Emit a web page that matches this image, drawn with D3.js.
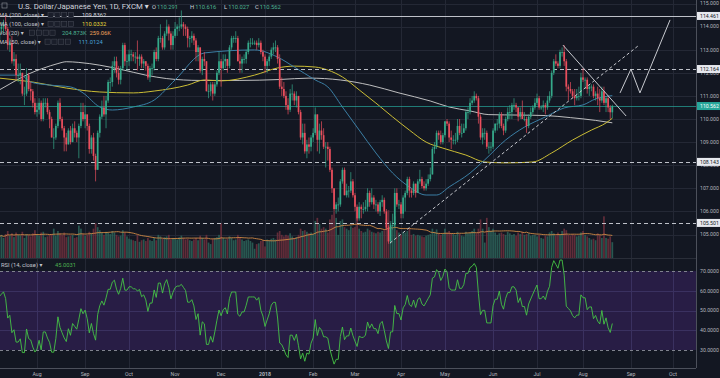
<!DOCTYPE html>
<html><head><meta charset="utf-8">
<script src="https://cdn.jsdelivr.net/npm/d3@7"></script>
<style>
html,body{margin:0;padding:0;background:#131722;overflow:hidden;}
svg{display:block;}
text{font-family:Roboto,"DejaVu Sans",sans-serif;}
</style></head><body>
<svg id="chart" width="720" height="378"></svg>
<script>
// ---------------- DATA ----------------
const firstBarDate = "2017-07-06";
const axisEndDate = "2018-10-31";
const monthStarts = ["2017-08","2017-09","2017-10","2017-11","2017-12","2018-01","2018-02","2018-03","2018-04","2018-05","2018-06","2018-07","2018-08","2018-09","2018-10"];
const monthLabels = ["Aug","Sep","Oct","Nov","Dec","2018","Feb","Mar","Apr","May","Jun","Jul","Aug","Sep","Oct"];

const opens = [113.3,113.9,114.0,114.1,113.9,113.2,113.3,112.5,112.6,111.9,
111.9,112.0,111.1,111.1,111.9,111.3,111.2,110.7,110.3,110.4,
110.7,110.0,110.7,110.7,110.3,110.0,109.2,109.2,109.7,110.7,
110.0,109.6,109.2,108.9,109.5,109.0,109.6,109.4,109.2,109.7,
110.3,110.0,110.2,109.7,108.7,109.2,108.4,107.8,109.4,110.1,
110.5,110.2,110.8,111.6,111.6,112.3,112.5,112.0,111.7,112.2,
113.2,112.5,112.5,112.8,112.8,112.7,112.7,112.6,112.7,112.4,
112.5,112.3,111.8,112.2,112.2,112.9,112.6,113.5,113.5,113.1,
113.7,114.0,113.7,113.2,113.6,113.9,114.0,114.0,114.1,114.0,
113.9,113.5,113.5,113.6,113.4,112.9,113.1,112.1,112.6,112.5,
111.2,111.2,111.5,111.1,111.5,112.0,112.5,112.2,112.5,112.6,
112.3,113.1,113.5,113.5,113.5,112.5,112.4,112.6,112.6,112.9,
113.3,113.3,113.3,113.3,113.2,113.3,112.9,112.7,112.3,112.5,
112.7,113.0,113.1,113.1,112.6,111.4,111.3,111.0,110.6,110.4,
111.1,111.1,110.8,111.0,110.3,109.2,109.4,108.6,108.9,108.8,
109.2,109.4,110.2,109.1,109.5,109.3,108.8,108.8,108.7,107.8,
107.0,106.1,106.3,106.3,107.3,107.8,106.7,106.9,106.9,107.3,
106.7,106.2,105.7,106.2,106.1,106.1,106.2,106.8,106.4,106.6,
106.3,106.3,106.0,106.4,106.5,106.0,105.3,104.7,105.4,105.4,
106.8,106.3,106.3,105.9,106.6,106.8,107.4,106.9,106.8,107.2,
106.8,107.3,107.4,107.1,107.0,107.2,107.4,107.6,108.7,108.8,
109.4,109.3,109.0,109.3,109.9,109.8,109.2,109.1,109.1,109.1,
109.7,109.4,109.4,109.6,110.3,110.3,110.7,110.8,111.0,110.9,
110.1,109.2,109.4,109.4,108.8,108.8,108.8,109.5,109.8,109.8,
110.2,109.7,109.5,110.0,110.3,110.3,110.6,110.6,110.5,110.1,
110.3,110.0,110.0,109.7,110.1,110.3,110.5,110.7,110.9,110.5,
110.5,110.6,110.5,110.8,111.0,112.0,112.5,112.4,112.3,112.9,
112.9,112.5,111.4,111.3,111.2,111.0,110.9,111.0,111.0,111.8,
111.7,111.7,111.3,111.4,111.4,111.0,111.1,110.9,110.8,111.2,
110.7,110.9,110.5,110.291];

const highs = [114.0,114.2,114.3,114.5,114.0,113.5,113.6,112.9,112.8,112.4,
112.4,112.0,111.4,112.2,112.0,111.6,111.3,110.9,110.7,110.9,
110.8,110.9,110.9,110.9,110.4,110.1,109.6,109.8,110.8,110.9,
110.1,109.7,109.4,109.6,109.7,109.8,109.9,109.5,109.8,110.7,
110.7,110.6,110.2,109.8,109.3,109.4,108.5,109.5,110.2,110.8,
111.0,111.0,111.7,111.8,112.5,112.7,112.7,112.3,112.3,113.3,
113.3,112.8,113.0,113.0,112.9,112.9,113.4,112.8,112.8,112.6,
112.5,112.4,112.3,112.4,113.0,113.1,113.6,114.1,113.6,113.8,
114.3,114.1,113.8,113.8,114.2,114.1,114.4,114.7,114.2,114.1,
114.0,113.6,113.8,113.7,113.5,113.2,113.1,112.7,112.9,112.5,
111.5,111.6,111.6,111.6,112.1,112.9,112.6,112.8,112.8,112.6,
113.2,113.6,113.6,113.8,113.6,112.8,112.7,112.8,113.0,113.4,
113.5,113.5,113.4,113.4,113.5,113.4,113.0,112.8,112.6,112.8,
113.1,113.3,113.4,113.2,112.8,111.8,111.6,111.2,110.9,111.3,
111.5,111.2,111.2,111.0,110.4,109.8,109.8,109.1,109.2,109.3,
109.6,110.5,110.2,109.8,109.9,109.6,109.0,109.0,108.8,107.9,
107.0,106.4,106.6,107.4,107.9,107.9,107.2,107.1,107.7,107.4,
106.8,106.3,106.4,106.3,106.4,106.5,107.0,106.9,107.0,106.7,
106.5,106.4,106.5,106.7,106.6,106.1,105.4,105.5,105.9,107.0,
107.0,106.5,106.4,106.7,106.9,107.5,107.5,107.0,107.3,107.2,
107.4,107.8,107.5,107.3,107.4,107.6,107.9,108.8,109.0,109.5,
109.5,109.5,109.4,109.9,110.0,109.9,109.5,109.3,109.4,110.0,
110.0,109.8,109.8,110.4,110.5,110.9,111.0,111.2,111.1,111.0,
110.2,109.6,109.6,109.5,109.0,109.0,109.6,109.8,110.0,110.3,
110.3,109.8,110.1,110.5,110.6,110.7,110.9,110.7,110.5,110.5,
110.8,110.3,110.1,110.2,110.5,110.6,110.9,111.1,111.0,110.6,
110.8,110.7,111.0,111.2,112.1,112.6,112.8,112.5,113.0,113.1,
113.2,112.6,111.5,111.6,111.3,111.3,111.3,111.4,112.0,112.2,
111.8,111.8,111.5,111.5,111.5,111.2,111.4,111.3,111.4,111.4,
111.0,111.0,110.6,110.616];

const lows = [113.1,113.7,113.7,113.8,113.0,112.9,112.4,112.3,111.7,111.6,
111.5,111.0,110.6,111.0,111.2,110.8,110.5,110.2,110.1,110.2,
109.9,109.9,110.5,110.2,109.6,109.2,108.7,109.1,109.6,109.9,
109.5,108.6,108.6,108.9,108.9,109.0,109.2,109.0,108.3,109.6,
109.9,109.6,109.5,108.5,108.5,108.2,107.3,107.8,109.2,110.0,
110.1,109.6,110.7,111.2,111.4,112.0,111.8,111.5,111.5,112.1,
112.3,112.1,112.3,112.5,112.5,112.4,112.1,112.3,112.2,112.2,
112.1,111.7,111.6,111.9,112.1,112.5,112.5,113.3,113.0,113.0,
113.6,113.4,113.0,113.0,113.5,113.6,113.8,113.9,113.6,113.6,
113.1,113.1,113.3,113.2,112.5,112.5,112.0,111.9,112.3,111.2,
110.9,111.0,110.8,111.0,111.4,111.9,111.4,112.1,112.2,112.0,
112.2,113.0,113.3,113.3,112.5,112.0,112.0,112.4,112.4,112.8,
113.1,113.2,113.2,113.0,113.1,112.8,112.5,112.0,112.0,112.3,
112.6,112.8,112.9,112.4,111.3,111.0,110.9,110.4,110.2,110.3,
110.8,110.6,110.5,110.2,109.1,108.9,108.5,108.3,108.5,108.6,
109.0,109.3,108.6,108.5,109.1,108.7,107.9,108.2,107.7,106.8,
106.0,105.9,106.0,106.2,107.2,106.7,106.6,106.6,106.8,106.6,
106.0,105.6,105.6,105.7,105.9,106.0,106.0,106.2,106.3,106.1,
106.0,105.9,105.8,106.2,105.9,105.2,104.6,104.6,105.2,105.3,
106.2,106.1,105.7,105.7,106.0,106.7,106.6,106.6,106.7,106.6,
106.8,107.2,107.0,106.9,106.9,107.1,107.3,107.6,108.5,108.7,
109.1,108.9,108.9,109.2,109.7,109.0,108.7,108.9,108.9,109.0,
109.3,109.2,109.4,109.5,110.0,110.2,110.6,110.7,110.8,109.8,
109.1,108.9,109.1,108.7,108.5,108.6,108.7,109.4,109.5,109.6,
109.6,109.3,109.4,109.9,110.0,110.0,110.4,110.3,109.9,110.0,
110.0,109.9,109.4,109.6,110.0,110.2,110.4,110.6,110.4,110.4,
110.3,110.2,110.4,110.7,110.9,111.9,112.3,112.2,112.2,112.7,
112.3,111.2,110.8,111.1,110.9,110.6,110.8,110.8,110.9,111.6,
111.3,111.1,111.0,111.2,110.9,110.8,110.6,110.3,110.7,110.6,
110.3,110.3,110.0,110.027];

const closes = [113.9,114.0,114.1,113.9,113.2,113.3,112.5,112.6,111.9,111.9,
112.0,111.1,111.1,111.9,111.3,111.2,110.7,110.3,110.4,110.7,
110.0,110.7,110.7,110.3,110.0,109.2,109.2,109.7,110.7,110.0,
109.6,109.2,108.9,109.5,109.0,109.6,109.4,109.2,109.7,110.3,
110.0,110.2,109.7,108.7,109.2,108.4,107.8,109.4,110.1,110.5,
110.2,110.8,111.6,111.6,112.3,112.5,112.0,111.7,112.2,113.2,
112.5,112.5,112.8,112.8,112.7,112.7,112.6,112.7,112.4,112.5,
112.3,111.8,112.2,112.2,112.9,112.6,113.5,113.5,113.1,113.7,
114.0,113.7,113.2,113.6,113.9,114.0,114.0,114.1,114.0,113.9,
113.5,113.5,113.6,113.4,112.9,113.1,112.1,112.6,112.5,111.2,
111.2,111.5,111.1,111.5,112.0,112.5,112.2,112.5,112.6,112.3,
113.1,113.5,113.5,113.5,112.5,112.4,112.6,112.6,112.9,113.3,
113.3,113.3,113.3,113.2,113.3,112.9,112.7,112.3,112.5,112.7,
113.0,113.1,113.1,112.6,111.4,111.3,111.0,110.6,110.4,111.1,
111.1,110.8,111.0,110.3,109.2,109.4,108.6,108.9,108.8,109.2,
109.4,110.2,109.1,109.5,109.3,108.8,108.8,108.7,107.8,107.0,
106.1,106.3,106.3,107.3,107.8,106.7,106.9,106.9,107.3,106.7,
106.2,105.7,106.2,106.1,106.1,106.2,106.8,106.4,106.6,106.3,
106.3,106.0,106.4,106.5,106.0,105.3,104.7,105.4,105.4,106.8,
106.3,106.3,105.9,106.6,106.8,107.4,106.9,106.8,107.2,106.8,
107.3,107.4,107.1,107.0,107.2,107.4,107.6,108.7,108.8,109.4,
109.3,109.0,109.3,109.9,109.8,109.2,109.1,109.1,109.1,109.7,
109.4,109.4,109.6,110.3,110.3,110.7,110.8,111.0,110.9,110.1,
109.2,109.4,109.4,108.8,108.8,108.8,109.5,109.8,109.8,110.2,
109.7,109.5,110.0,110.3,110.3,110.6,110.6,110.5,110.1,110.3,
110.0,110.0,109.7,110.1,110.3,110.5,110.7,110.9,110.5,110.5,
110.6,110.5,110.8,111.0,112.0,112.5,112.4,112.3,112.9,112.9,
112.5,111.4,111.3,111.2,111.0,110.9,111.0,111.0,111.8,111.7,
111.7,111.3,111.4,111.4,111.0,111.1,110.9,110.8,111.2,110.7,
110.9,110.5,110.291,110.562];

// volume in thousands
const volumes = [280,300,260,310,350,290,320,270,330,300,
290,340,260,310,300,280,320,360,300,290,
330,340,270,280,300,310,380,290,350,320,
300,330,270,280,290,300,260,270,420,380,
310,290,300,340,320,380,450,400,360,330,
300,340,330,310,350,330,300,280,290,360,
330,280,250,240,230,220,300,210,230,240,
220,260,230,220,260,230,300,280,250,270,
280,300,240,260,250,240,270,290,260,240,
250,230,220,240,260,230,290,260,240,300,
200,180,250,260,270,300,450,260,240,250,
280,260,230,240,300,260,240,220,230,240,
220,200,120,180,190,220,230,150,240,230,
250,260,240,330,350,300,280,300,290,320,
280,260,270,300,380,350,360,340,320,330,
310,480,520,440,380,400,380,330,500,560,
600,520,300,480,500,400,380,360,410,390,
400,520,380,350,330,340,380,360,340,330,
320,340,330,350,360,500,620,480,370,540,
360,330,300,340,330,350,380,300,310,290,
300,290,280,270,290,300,310,380,340,370,
320,300,310,380,330,350,320,310,300,340,
310,290,280,340,320,330,350,380,320,380,
500,380,200,520,400,350,380,330,300,320,
330,310,300,340,320,300,310,290,330,310,
340,300,310,320,290,300,300,280,300,260,
250,290,280,330,350,320,290,330,300,350,
380,360,300,290,310,300,280,290,330,350,
300,280,260,240,250,230,320,300,260,540,
260,250,280,204.873];

// moving averages: [bar index] -> value
const ma200Bars = [0,7,14,21,28,32,38,48,58,70,80,96,115,134,148,163,177,191,206,215,225,234,249,261,273,285,293];
const ma200Vals = [111.26,111.62,111.95,112.2,112.4,112.48,112.45,112.33,112.15,111.9,111.75,111.67,111.67,111.71,111.77,111.69,111.47,111.13,110.78,110.52,110.35,110.19,110.17,110.15,110.06,109.94,109.836];
const ma100Bars = [0,16,32,48,64,74,90,98,106,122,133,141,151,157,164,172,180,188,196,204,212,223,232,242,255,264,274,283,290,293];
const ma100Vals = [111.77,111.60,111.34,111.17,111.13,111.21,111.47,111.69,111.65,111.90,112.21,112.29,112.25,112.12,111.82,111.26,110.69,110.09,109.52,109.00,108.74,108.44,108.14,108.10,108.14,108.53,109.09,109.52,109.83,110.033];
const ma50Bars = [0,10,15,24,34,40,48,54,64,74,84,98,122,133,141,151,157,164,172,180,188,196,204,209,215,225,232,242,251,261,270,279,285,293];
const ma50Vals = [111.90,111.90,111.60,111.47,111.39,111.13,110.52,110.39,110.52,110.82,111.69,112.86,112.99,112.68,112.25,111.69,111.39,110.52,109.52,108.53,107.66,107.06,106.71,106.71,107.06,107.66,108.23,109.09,109.65,110.09,110.48,110.61,110.87,111.012];

const priceTicks = [105,106,107,108,109,110,111,112,113,114,115];
const rsiTicks = [30,40,50,60,70];
const levels = [114.461,112.164,108.143,105.501];
const rsiSeedGain = 0.16, rsiSeedLoss = 0.12;

// drawings: [bar index, price]
const downTrend = [[269.4,113.20],[299.6,110.13]];
const upTrend = [[186.7,104.63],[305.8,113.20]];
const projection = [[296.7,111.13],[301.9,112.16],[306.2,111.13],[320.6,114.29]];

const legendValues = {ma200:"109.8362", ma100:"110.0332", vol:"204.873K", volMa:"259.06K", ma50:"111.0124", rsi:"45.0031"};

// ---------------- CHART ----------------
const svg = d3.select("#chart");
const plotR = 696, priceBot = 258, rsiTop = 259, rsiBot = 368;
const C = {bg:"#131722", grid:"#242835", axis:"#4a4e5a", text:"#b2b5be", up:"#35a98a", down:"#ea4f5d",
  ma200:"#d0d0d0", ma100:"#cbbd35", ma50:"#3b7fa5", volMa:"#d08a45", rsi:"#45c445", lvl:"#d1d4dc"};

const x = d3.scaleLinear().domain([0.313, 333]).range([0, plotR]);
const y = d3.scaleLinear().domain([103.983, 115.152]).range([priceBot, 0]);
const yV = d3.scaleLinear().domain([0, 1000]).range([priceBot, priceBot - 77.2]);
const yR = d3.scaleLinear().domain([21.4, 76.1]).range([rsiBot - 1, rsiTop]);

function tradingDays(a, b) {
  const out = []; let d = new Date(a + "T00:00:00Z"); const e = new Date(b + "T00:00:00Z");
  while (d <= e) { const wd = d.getUTCDay(); if (wd !== 0 && wd !== 6) out.push(new Date(d)); d = new Date(d.getTime() + 86400000); }
  return out;
}
const days = tradingDays(firstBarDate, axisEndDate);
const monthIdx = monthStarts.map(m => days.findIndex(d => d.toISOString().slice(0, 7) === m));

svg.append("rect").attr("width", 720).attr("height", 378).attr("fill", C.bg);

const defs = svg.append("defs");
defs.append("clipPath").attr("id", "pclip").append("rect").attr("x", 0).attr("y", 0).attr("width", plotR).attr("height", priceBot);
defs.append("clipPath").attr("id", "rclip").append("rect").attr("x", 0).attr("y", rsiTop).attr("width", plotR).attr("height", rsiBot - rsiTop);

// grid
const grid = svg.append("g").attr("stroke", C.grid).attr("stroke-width", 1).attr("shape-rendering", "crispEdges");
grid.selectAll(".v").data(monthIdx).join("line").attr("x1", d => Math.round(x(d)) + 0.5).attr("x2", d => Math.round(x(d)) + 0.5).attr("y1", 0).attr("y2", rsiBot);
grid.selectAll(".h").data(priceTicks).join("line").attr("x1", 0).attr("x2", plotR).attr("y1", d => Math.round(y(d)) + 0.5).attr("y2", d => Math.round(y(d)) + 0.5);

// RSI band
svg.append("rect").attr("x", 0).attr("width", plotR).attr("y", yR(70)).attr("height", yR(30) - yR(70)).attr("fill", "#291d48").attr("opacity", 0.95);
svg.append("g").attr("stroke", "#3a3160").attr("shape-rendering", "crispEdges").selectAll("line").data([40, 50, 60]).join("line")
  .attr("x1", 0).attr("x2", plotR).attr("y1", d => Math.round(yR(d)) + 0.5).attr("y2", d => Math.round(yR(d)) + 0.5);
svg.append("g").attr("stroke", "#3a3160").attr("shape-rendering", "crispEdges").selectAll("line").data(monthIdx).join("line")
  .attr("x1", d => Math.round(x(d)) + 0.5).attr("x2", d => Math.round(x(d)) + 0.5).attr("y1", yR(70)).attr("y2", yR(30));
svg.append("g").attr("stroke", "#80838e").attr("stroke-dasharray", "3,3").selectAll("line").data([70, 30]).join("line")
  .attr("x1", 0).attr("x2", plotR).attr("y1", d => Math.round(yR(d)) + 0.5).attr("y2", d => Math.round(yR(d)) + 0.5);

const bars = d3.range(closes.length);
const isUp = i => closes[i] >= opens[i];

// price pane
const pp = svg.append("g").attr("clip-path", "url(#pclip)");

// volume
pp.append("g").selectAll("rect").data(bars).join("rect")
  .attr("x", i => x(i) - 0.85).attr("width", 1.7)
  .attr("y", i => yV(volumes[i])).attr("height", i => priceBot - yV(volumes[i]))
  .attr("fill", i => isUp(i) ? "#2b5f56" : "#6a2f3c").attr("opacity", 0.9);
const volMa = bars.map(i => { const s = Math.max(0, i - 19); return d3.mean(volumes.slice(s, i + 1)); });
pp.append("path").datum(bars).attr("fill", "none").attr("stroke", C.volMa).attr("stroke-width", 0.9)
  .attr("d", d3.line().x(i => x(i)).y(i => yV(volMa[i])));

// moving averages
function maLine(bs, vs, color, w) {
  pp.append("path").datum(bs.map((b, k) => [b, vs[k]])).attr("fill", "none").attr("stroke", color).attr("stroke-width", w)
    .attr("d", d3.line().curve(d3.curveMonotoneX).x(d => x(d[0])).y(d => y(d[1])));
}
maLine(ma200Bars, ma200Vals, C.ma200, 0.9);
maLine(ma100Bars, ma100Vals, C.ma100, 1);
maLine(ma50Bars, ma50Vals, C.ma50, 1);

// levels
levels.forEach((v, k) => {
  pp.append("line").attr("x1", 0).attr("x2", plotR).attr("y1", Math.round(y(v)) + 0.5).attr("y2", Math.round(y(v)) + 0.5)
    .attr("stroke", C.lvl).attr("stroke-width", 1).attr("stroke-dasharray", k === 0 ? null : "4,3").attr("opacity", 0.9);
});
const last = closes[closes.length - 1];
pp.append("line").attr("x1", 0).attr("x2", plotR).attr("y1", Math.round(y(last)) + 0.5).attr("y2", Math.round(y(last)) + 0.5)
  .attr("stroke", "#26a69a").attr("stroke-width", 1).attr("opacity", 0.7);

// candles
const cg = pp.append("g");
cg.selectAll("line").data(bars).join("line")
  .attr("x1", i => x(i)).attr("x2", i => x(i))
  .attr("y1", i => y(Math.max(highs[i], opens[i], closes[i]))).attr("y2", i => y(Math.min(lows[i], opens[i], closes[i])))
  .attr("stroke", i => isUp(i) ? C.up : C.down).attr("stroke-width", 0.7);
cg.selectAll("rect").data(bars).join("rect")
  .attr("x", i => x(i) - 0.85).attr("width", 1.7)
  .attr("y", i => y(Math.max(opens[i], closes[i])))
  .attr("height", i => Math.max(0.8, Math.abs(y(opens[i]) - y(closes[i]))))
  .attr("fill", i => isUp(i) ? C.up : C.down);

// drawings
const dl = d3.line().x(d => x(d[0])).y(d => y(d[1]));
pp.append("path").datum(downTrend).attr("d", dl).attr("stroke", "#c8cad0").attr("stroke-width", 1).attr("fill", "none");
pp.append("path").datum(upTrend).attr("d", dl).attr("stroke", "#c8cad0").attr("stroke-width", 1).attr("stroke-dasharray", "3,2.5").attr("fill", "none");
pp.append("path").datum(projection).attr("d", dl).attr("stroke", "#c8cad0").attr("stroke-width", 1).attr("fill", "none");

// RSI
const rsi = [];
{ let ag = rsiSeedGain, al = rsiSeedLoss;
  closes.forEach((c, i) => {
    if (i > 0) { const ch = c - closes[i - 1]; ag = (ag * 13 + Math.max(ch, 0)) / 14; al = (al * 13 + Math.max(-ch, 0)) / 14; }
    rsi.push(100 - 100 / (1 + ag / al));
  });
}
svg.append("g").attr("clip-path", "url(#rclip)").append("path").datum(bars).attr("fill", "none").attr("stroke", C.rsi).attr("stroke-width", 0.9)
  .attr("d", d3.line().x(i => x(i)).y(i => yR(rsi[i])));

// frame lines
const fr = svg.append("g").attr("stroke", "#4c505b").attr("shape-rendering", "crispEdges");
fr.append("line").attr("x1", plotR + 0.5).attr("x2", plotR + 0.5).attr("y1", 0).attr("y2", rsiBot);
fr.append("line").attr("x1", 0).attr("x2", plotR).attr("y1", rsiBot + 0.5).attr("y2", rsiBot + 0.5);
fr.append("line").attr("x1", 0).attr("x2", plotR).attr("y1", priceBot + 0.5).attr("y2", priceBot + 0.5).attr("stroke", "#2a2e39");

// axis labels
const fmt3 = d3.format(".3f"), fmt4 = d3.format(".4f");
svg.append("g").selectAll("text").data(priceTicks).join("text")
  .attr("x", 700).attr("y", d => y(d)).attr("dy", "0.35em").attr("font-size", 5.2).attr("fill", C.text).text(d => fmt3(d));
svg.append("g").selectAll("text").data(rsiTicks).join("text")
  .attr("x", 700).attr("y", d => yR(d)).attr("dy", "0.35em").attr("font-size", 5.2).attr("fill", C.text).text(d => fmt4(d));
svg.append("g").selectAll("text").data(monthIdx).join("text")
  .attr("x", d => x(d)).attr("y", 374).attr("dy", "0.35em").attr("text-anchor", "middle").attr("font-size", 5.2)
  .attr("font-weight", (d, k) => monthLabels[k] === "2018" ? "bold" : null).attr("fill", C.text).text((d, k) => monthLabels[k]);

// price label boxes
function priceBox(v, bg, fg) {
  const g = svg.append("g");
  g.append("rect").attr("x", 697).attr("y", y(v) - 4).attr("width", 23).attr("height", 8).attr("fill", bg);
  g.append("text").attr("x", 700).attr("y", y(v)).attr("dy", "0.35em").attr("font-size", 5.2).attr("fill", fg).text(fmt3(v));
}
levels.forEach(v => priceBox(v, "#e6e8ee", "#131722"));
priceBox(last, "#26a69a", "#ffffff");

// legend
const lg = svg.append("g");
lg.append("rect").attr("x", 2).attr("y", 3).attr("width", 5).attr("height", 5).attr("fill", "none").attr("stroke", "#9598a1").attr("stroke-width", 0.6);
lg.append("text").attr("x", 18).attr("y", 6.5).attr("dy", "0.35em").attr("font-size", 7.8).attr("fill", "#d1d4dc").text("U.S. Dollar/Japanese Yen, 1D, FXCM ▾");
const ohlc = [["O", opens], ["H", highs], ["L", lows], ["C", closes]];
const ohlcX = [152, 190, 224, 255];
ohlc.forEach(([k, arr], j) => {
  const t = lg.append("text").attr("x", ohlcX[j]).attr("y", 6.5).attr("dy", "0.35em").attr("font-size", 5.8);
  t.append("tspan").attr("fill", "#d1d4dc").text(k);
  t.append("tspan").attr("fill", "#4db391").attr("dx", 1).text(fmt3(arr[arr.length - 1]));
});
const rows = [
  {y: 15, label: "MA (200, close) ▾", bx: 48, vals: [[legendValues.ma200, 82, "#d1d4dc"]]},
  {y: 24, label: "MA (100, close) ▾", bx: 48, vals: [[legendValues.ma100, 82, "#e8dc3c"]]},
  {y: 32.7, label: "Vol (20) ▾", bx: 29.5, vals: [[legendValues.vol, 62, "#4db391"], [legendValues.volMa, 89.5, "#f0a35b"]]},
  {y: 41.7, label: "MA (50, close) ▾", bx: 45, vals: [[legendValues.ma50, 78.5, "#4aa3d8"]]}
];
rows.forEach(r => {
  lg.append("text").attr("x", -1).attr("y", r.y).attr("dy", "0.35em").attr("font-size", 5.8).attr("fill", "#c3c6ce").text(r.label);
  for (let k = 0; k < 4; k++) lg.append("rect").attr("x", r.bx + k * 6.8).attr("y", r.y - 2.6).attr("width", 5.2).attr("height", 5.2)
    .attr("fill", "#1a1e2a").attr("stroke", "#4a4e5a").attr("stroke-width", 0.5);
  r.vals.forEach(([t, vx, col]) => lg.append("text").attr("x", vx).attr("y", r.y).attr("dy", "0.35em").attr("font-size", 5.8).attr("fill", col).text(t));
});
lg.append("text").attr("x", 1).attr("y", 265).attr("dy", "0.35em").attr("font-size", 5.8).attr("fill", "#c3c6ce").text("RSI (14, close) ▾");
lg.append("text").attr("x", 55).attr("y", 265).attr("dy", "0.35em").attr("font-size", 5.8).attr("fill", "#4caf50").text(legendValues.rsi);
</script></body></html>
